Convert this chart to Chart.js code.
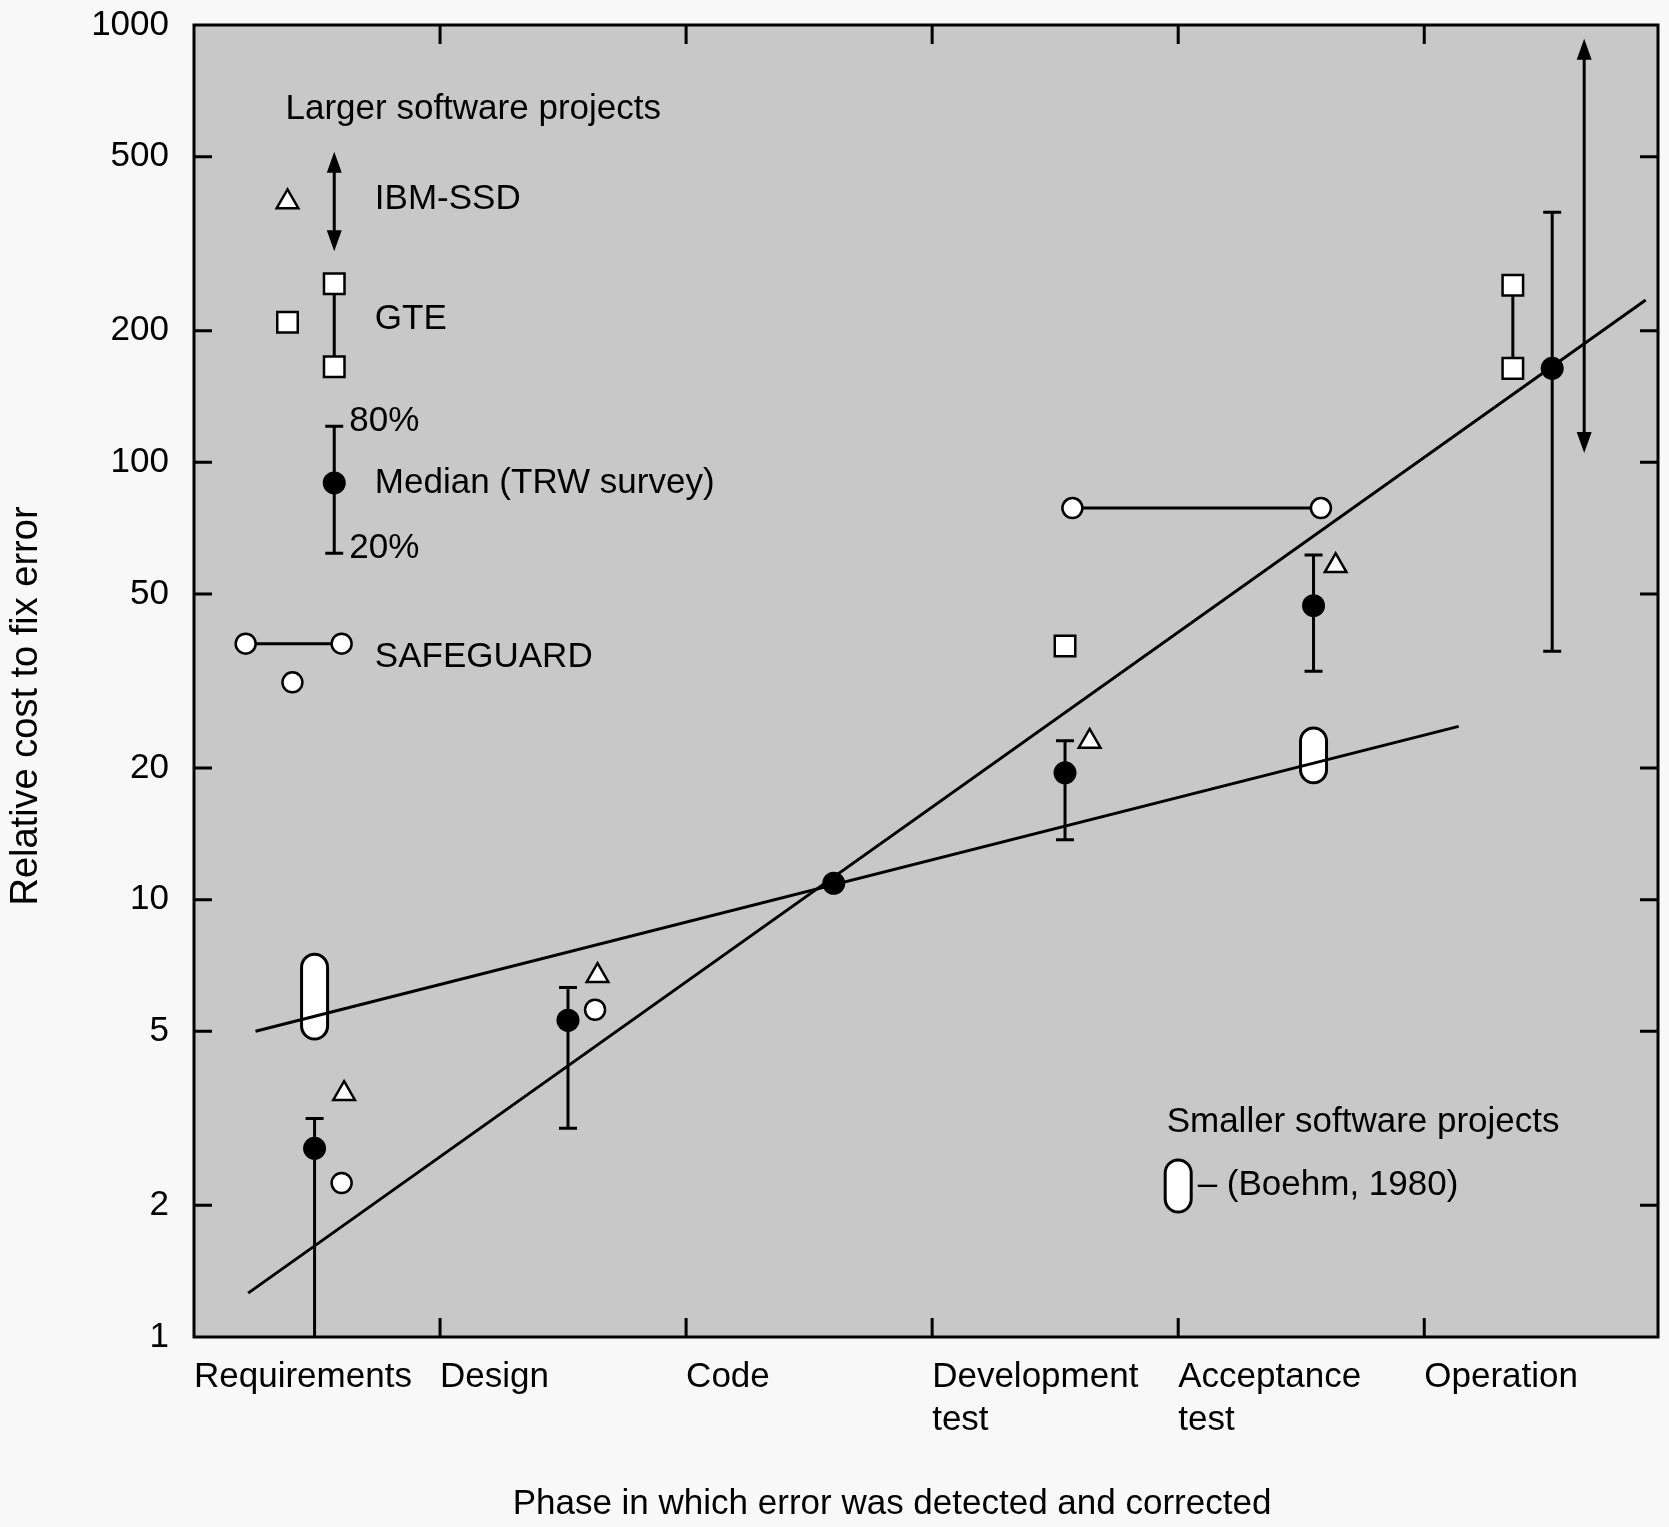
<!DOCTYPE html>
<html>
<head>
<meta charset="utf-8">
<script src="https://cdn.jsdelivr.net/npm/chart.js@4.4.1/dist/chart.umd.min.js"></script>
<style>
  html, body { margin: 0; padding: 0; background: #f8f8f8; overflow: hidden; }
  #wrap { width: 1669px; height: 1527px; }
</style>
</head>
<body>
<div id="wrap"><canvas id="chart"></canvas></div>
<script>
const phases = ['Requirements', 'Design', 'Code', ['Development', 'test'], ['Acceptance', 'test'], 'Operation'];
const yTicks = [1, 2, 5, 10, 20, 50, 100, 200, 500, 1000];

// TRW survey: median with 20% / 80% range
const trwX = [0.49, 1.52, 2.60, 3.54, 4.55, 5.52];
const trwMedian = [2.7, 5.3, 10.9, 19.5, 47, 164];
const trwLow = [1, 3.0, null, 13.7, 33.3, 37];
const trwHigh = [3.16, 6.3, null, 23.1, 61.4, 373];

// IBM-SSD
const ibmX = [0.61, 1.64, 3.64, 4.64];
const ibmY = [3.6, 6.7, 23, 58];
const ibmRangeX = 5.65;
const ibmRange = [105, 930];

// SAFEGUARD
const sgX = [0.60, 1.63];
const sgY = [2.25, 5.6];
const sgRangeX = [3.57, 4.58];
const sgRangeY = [78.6, 78.6];

// GTE
const gteX = [3.54];
const gteY = [38];
const gteRangeX = [5.36, 5.36];
const gteRangeY = [164, 254];

// Boehm 1980, smaller projects
const boehmX = [0.49, 4.55];
const boehmLow = [4.8, 18.5];
const boehmHigh = [7.5, 24.7];

// trend lines
const largeTrendX = [0.22, 5.90];
const largeTrendY = [1.26, 235];
const smallTrendX = [0.25, 5.14];
const smallTrendY = [5, 24.9];

// key (legend) symbols, in data units
const keyTriX = [0.38], keyTriY = [394];
const keyArrowX = 0.57, keyArrow = [304, 513];
const keySqX = [0.38], keySqY = [209];
const keyGteX = [0.57, 0.57], keyGteY = [165.5, 256];
const keyTrwX = [0.57], keyTrwY = [89.7], keyTrwLow = [62], keyTrwHigh = [121];
const keySgRangeX = [0.21, 0.60], keySgRangeY = [38.5, 38.5];
const keySgX = [0.40], keySgY = [31.4];
const keyPillX = [4.0], keyPillLow = [1.93], keyPillHigh = [2.54];

const notes = [
  { text: 'Larger software projects', x: 0.372, y: 640 },
  { text: 'IBM-SSD', x: 0.735, y: 399 },
  { text: 'GTE', x: 0.735, y: 212 },
  { text: '80%', x: 0.631, y: 124 },
  { text: 'Median (TRW survey)', x: 0.735, y: 89.7 },
  { text: '20%', x: 0.631, y: 63.6 },
  { text: 'SAFEGUARD', x: 0.735, y: 35.9 },
  { text: 'Smaller software projects', x: 3.953, y: 3.1 },
  { text: '\u2013 (Boehm, 1980)', x: 4.079, y: 2.22 }
];

const FONT = '"Liberation Sans", Arial, Helvetica, sans-serif';
const LW = 3;
const pts = (xs, ys) => xs.map((v, i) => ({ x: v, y: ys[i] }));

const decor = {
  id: 'decor',
  beforeDraw(chart) {
    const { ctx, chartArea: a } = chart;
    ctx.save();
    ctx.fillStyle = '#f8f8f8';
    ctx.fillRect(0, 0, chart.width, chart.height);
    ctx.fillStyle = '#c8c8c8';
    ctx.fillRect(a.left, a.top, a.right - a.left, a.bottom - a.top);
    ctx.restore();
  },
  beforeDatasetsDraw(chart) {
    const { ctx, scales: { x, y } } = chart;
    ctx.save();
    ctx.strokeStyle = '#000';
    ctx.lineWidth = LW;

    const pill = (xv, lo, hi) => {
      const px = x.getPixelForValue(xv), top = y.getPixelForValue(hi), bot = y.getPixelForValue(lo);
      const w = 26;
      ctx.beginPath();
      ctx.roundRect(px - w / 2, top, w, bot - top, w / 2);
      ctx.fillStyle = '#fff';
      ctx.fill();
      ctx.stroke();
    };
    boehmX.forEach((v, i) => pill(v, boehmLow[i], boehmHigh[i]));
    keyPillX.forEach((v, i) => pill(v, keyPillLow[i], keyPillHigh[i]));

    const errBar = (xv, lo, hi) => {
      if (lo == null) return;
      const px = x.getPixelForValue(xv), top = y.getPixelForValue(hi), bot = y.getPixelForValue(lo);
      ctx.beginPath();
      ctx.moveTo(px, top); ctx.lineTo(px, bot);
      ctx.moveTo(px - 9, top); ctx.lineTo(px + 9, top);
      if (lo > 1) { ctx.moveTo(px - 9, bot); ctx.lineTo(px + 9, bot); }
      ctx.stroke();
    };
    trwX.forEach((v, i) => errBar(v, trwLow[i], trwHigh[i]));
    keyTrwX.forEach((v, i) => errBar(v, keyTrwLow[i], keyTrwHigh[i]));

    const arrow = (xv, lo, hi) => {
      const px = x.getPixelForValue(xv), top = y.getPixelForValue(hi), bot = y.getPixelForValue(lo);
      ctx.beginPath();
      ctx.moveTo(px, top + 10); ctx.lineTo(px, bot - 10);
      ctx.stroke();
      ctx.fillStyle = '#000';
      ctx.beginPath();
      ctx.moveTo(px, top); ctx.lineTo(px - 7.5, top + 21); ctx.lineTo(px + 7.5, top + 21); ctx.closePath();
      ctx.moveTo(px, bot); ctx.lineTo(px - 7.5, bot - 21); ctx.lineTo(px + 7.5, bot - 21); ctx.closePath();
      ctx.fill();
    };
    arrow(ibmRangeX, ibmRange[0], ibmRange[1]);
    arrow(keyArrowX, keyArrow[0], keyArrow[1]);
    ctx.restore();
  },
  afterDatasetsDraw(chart) {
    const { ctx, chartArea: a, scales: { x, y } } = chart;
    ctx.save();
    ctx.strokeStyle = '#000';
    ctx.lineWidth = LW;
    ctx.beginPath();
    for (let i = 1; i < phases.length; i++) {
      const px = x.getPixelForValue(i);
      ctx.moveTo(px, a.bottom); ctx.lineTo(px, a.bottom - 19);
      ctx.moveTo(px, a.top); ctx.lineTo(px, a.top + 19);
    }
    yTicks.slice(1, -1).forEach(v => {
      const py = y.getPixelForValue(v);
      ctx.moveTo(a.left, py); ctx.lineTo(a.left + 18, py);
      ctx.moveTo(a.right, py); ctx.lineTo(a.right - 18, py);
    });
    ctx.stroke();
    ctx.strokeRect(a.left, a.top, a.right - a.left, a.bottom - a.top);

    ctx.fillStyle = '#000';
    ctx.font = '35px ' + FONT;
    ctx.textAlign = 'left';
    ctx.textBaseline = 'middle';
    notes.forEach(n => ctx.fillText(n.text, x.getPixelForValue(n.x), y.getPixelForValue(n.y)));

    ctx.font = '35px ' + FONT;
    ctx.textAlign = 'center';
    ctx.fillText('Phase in which error was detected and corrected', 892, 1504);
    ctx.translate(27, 706);
    ctx.rotate(-Math.PI / 2);
    ctx.font = '38px ' + FONT;
    ctx.fillText('Relative cost to fix error', 0, 0);
    ctx.restore();
  }
};

const marker = {
  showLine: false,
  pointBorderColor: '#000',
  pointBorderWidth: 2.5,
  pointBackgroundColor: '#fff',
  order: 0
};

new Chart(document.getElementById('chart'), {
  type: 'scatter',
  data: {
    datasets: [
      { ...marker, label: 'Median (TRW survey)', data: pts(trwX, trwMedian).concat(pts(keyTrwX, keyTrwY)),
        pointStyle: 'circle', pointRadius: 11.5, pointBackgroundColor: '#000', pointBorderWidth: 0 },
      { ...marker, label: 'IBM-SSD', data: pts(ibmX, ibmY).concat(pts(keyTriX, keyTriY)),
        pointStyle: 'triangle', pointRadius: 12.5 },
      { ...marker, label: 'SAFEGUARD', data: pts(sgX, sgY).concat(pts(keySgX, keySgY)),
        pointStyle: 'circle', pointRadius: 10 },
      { ...marker, label: 'SAFEGUARD range', data: pts(sgRangeX, sgRangeY), showLine: true,
        borderColor: '#000', borderWidth: LW, pointStyle: 'circle', pointRadius: 10 },
      { ...marker, label: 'SAFEGUARD key', data: pts(keySgRangeX, keySgRangeY), showLine: true,
        borderColor: '#000', borderWidth: LW, pointStyle: 'circle', pointRadius: 10 },
      { ...marker, label: 'GTE', data: pts(gteX, gteY).concat(pts(keySqX, keySqY)),
        pointStyle: 'rect', pointRadius: 14.5 },
      { ...marker, label: 'GTE range', data: pts(gteRangeX, gteRangeY), showLine: true,
        borderColor: '#000', borderWidth: LW, pointStyle: 'rect', pointRadius: 14.5 },
      { ...marker, label: 'GTE key', data: pts(keyGteX, keyGteY), showLine: true,
        borderColor: '#000', borderWidth: LW, pointStyle: 'rect', pointRadius: 14.5 },
      { label: 'Larger projects trend', data: pts(largeTrendX, largeTrendY), showLine: true,
        borderColor: '#000', borderWidth: LW, pointRadius: 0, order: 10 },
      { label: 'Smaller projects trend', data: pts(smallTrendX, smallTrendY), showLine: true,
        borderColor: '#000', borderWidth: LW, pointRadius: 0, order: 10 }
    ]
  },
  options: {
    responsive: true,
    maintainAspectRatio: false,
    animation: false,
    events: [],
    devicePixelRatio: 1,
    layout: { autoPadding: false, padding: { top: 25, right: 11, left: 0, bottom: 0 } },
    plugins: { legend: { display: false }, tooltip: { enabled: false } },
    scales: {
      x: {
        type: 'linear', min: 0, max: 5.95,
        afterBuildTicks: s => { s.ticks = phases.map((p, i) => ({ value: i })); },
        afterFit: s => { s.height = 190; s.paddingLeft = 0; s.paddingRight = 0; },
        ticks: {
          callback: v => phases[v], align: 'start', maxRotation: 0, autoSkip: false,
          color: '#000', padding: 11, font: { family: FONT, size: 35, lineHeight: 1.22 }
        },
        grid: { display: false },
        border: { display: false }
      },
      y: {
        type: 'logarithmic', min: 1, max: 1000,
        afterBuildTicks: s => { s.ticks = yTicks.map(v => ({ value: v })); },
        afterFit: s => { s.width = 194; s.paddingTop = 0; s.paddingBottom = 0; },
        ticks: {
          callback: v => String(v), color: '#000', padding: 17,
          font: { family: FONT, size: 35 }
        },
        grid: { display: false },
        border: { display: false }
      }
    }
  },
  plugins: [decor]
});
</script>
</body>
</html>
